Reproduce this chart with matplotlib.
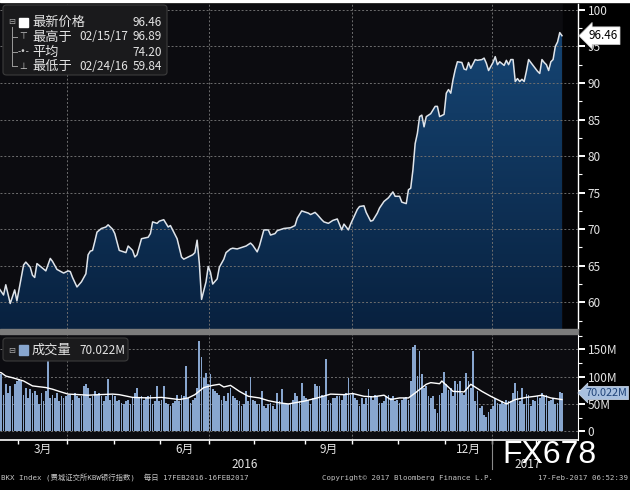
import numpy as np
import pandas as pd
import matplotlib
matplotlib.use("Agg")
import matplotlib.pyplot as plt
import matplotlib.transforms as mtrans
from matplotlib.colors import LinearSegmentedColormap
from matplotlib.patches import PathPatch, Rectangle, FancyBboxPatch
from matplotlib.ticker import MultipleLocator, FixedLocator
from matplotlib.lines import Line2D

plt.rcParams['font.family'] = ['Noto Sans CJK SC', 'DejaVu Sans']

# trading calendar (NYSE holidays in range)
holidays = ['2016-03-25', '2016-05-30', '2016-07-04', '2016-09-05',
            '2016-11-24', '2016-12-26', '2017-01-02', '2017-01-16']
dates = pd.bdate_range('2016-02-17', '2017-02-16', freq='C', holidays=holidays)

# BKX close, read at trading-day index positions
price_idx = [0, 2, 3, 5, 7, 8, 10, 11, 12, 14,
             15, 16, 17, 19, 21, 23, 24, 26, 29, 31,
             32, 33, 35, 37, 39, 40, 41, 42, 43, 44,
             46, 48, 49, 51, 52, 54, 57, 58, 60, 61,
             62, 64, 67, 68, 69, 71, 72, 74, 76, 77,
             78, 80, 82, 83, 85, 87, 88, 89, 90, 91,
             93, 94, 95, 96, 98, 99, 101, 102, 104, 105,
             107, 109, 111, 113, 114, 116, 117, 119, 121, 122,
             124, 125, 128, 131, 133, 134, 136, 137, 139, 140,
             142, 143, 145, 146, 148, 150, 152, 154, 155, 157,
             158, 161, 162, 164, 165, 167, 168, 170, 171, 173,
             175, 177, 178, 180, 181, 183, 184, 185, 186, 187,
             188, 189, 190, 191, 192, 194, 195, 196, 197, 198,
             200, 201, 202, 203, 204, 205, 206, 208, 209, 210,
             211, 212, 214, 215, 217, 218, 219, 220, 222, 223,
             224, 225, 227, 228, 229, 230, 231, 232, 233, 234,
             235, 236, 237, 238, 239, 241, 242, 243, 244, 245,
             246, 247, 248, 249, 250, 251, 252, 253]
price_val = [61.9, 61.0, 62.4, 59.84, 61.7, 60.2, 63.5, 65.1, 65.5, 64.8,
             63.7, 63.4, 65.3, 64.8, 64.3, 66.0, 65.6, 64.5, 64.0, 64.3,
             64.2, 63.4, 62.1, 62.8, 63.9, 66.5, 67.0, 67.1, 68.3, 69.6,
             70.1, 70.3, 70.6, 70.0, 69.4, 67.1, 66.8, 67.7, 67.1, 66.2,
             66.5, 68.7, 68.9, 69.4, 71.0, 70.8, 71.1, 71.3, 70.3, 70.5,
             69.9, 68.7, 66.2, 65.9, 66.2, 66.5, 66.8, 68.5, 65.3, 60.4,
             62.8, 64.9, 64.1, 62.5, 63.2, 64.8, 65.9, 66.8, 67.3, 67.4,
             67.3, 67.5, 67.7, 68.1, 67.8, 66.9, 67.7, 69.9, 69.9, 69.2,
             69.4, 69.8, 70.1, 70.2, 70.5, 71.5, 72.5, 72.4, 72.2, 72.0,
             72.3, 72.0, 71.3, 71.0, 70.8, 71.2, 71.4, 69.9, 70.7, 69.9,
             70.7, 72.7, 73.1, 73.2, 72.3, 71.1, 71.2, 72.2, 72.9, 73.8,
             74.3, 75.1, 74.5, 74.5, 73.7, 73.5, 75.4, 75.6, 78.1, 81.7,
             83.1, 85.4, 85.6, 84.0, 85.4, 85.8, 86.3, 86.8, 86.8, 85.4,
             85.7, 88.6, 89.1, 88.6, 90.4, 91.8, 92.9, 92.8, 91.9, 91.8,
             92.8, 92.0, 93.2, 93.1, 93.2, 93.4, 92.7, 91.7, 92.8, 93.6,
             92.5, 92.9, 92.4, 93.1, 92.5, 93.2, 93.2, 90.2, 90.6, 90.2,
             90.5, 90.2, 91.6, 93.2, 92.8, 92.0, 91.6, 91.3, 93.2, 92.8,
             92.5, 91.7, 92.9, 93.2, 95.0, 95.6, 96.89, 96.46]

# daily volume (millions), one per trading day
volume = [118, 105, 67, 86, 70, 83, 64, 86, 92, 95,
          92, 66, 80, 61, 77, 70, 73, 67, 49, 70,
          55, 73, 132, 61, 67, 61, 70, 55, 64, 61,
          64, 67, 67, 58, 70, 64, 61, 64, 83, 86,
          80, 61, 64, 73, 67, 70, 64, 55, 64, 95,
          58, 67, 64, 55, 58, 52, 49, 55, 58, 49,
          61, 70, 80, 61, 64, 58, 62,
          64, 67, 49, 55, 83, 55, 58, 83, 52, 49,
          46, 52, 55, 67, 55, 67, 64, 120, 61, 52,
          58, 60, 80, 165, 135, 98, 107, 86, 105, 77,
          73, 70, 67, 58, 64, 55, 70, 80, 64, 61,
          58, 55, 46, 49, 73, 55, 99, 58, 55, 49,
          49, 73, 46, 43, 49, 52, 46, 40, 70, 55,
          78, 52, 49, 49, 50,
          58, 70, 64, 55, 89, 64, 61, 58, 49, 61,
          86, 83, 83, 67, 64, 132, 58, 52, 61, 61,
          64, 64, 58, 67, 70, 97, 67, 70, 61, 58,
          46, 61, 49, 61, 78, 64, 58, 67, 64, 52,
          52, 55, 64, 67, 61, 64, 55, 58, 52, 58,
          61, 63, 58, 92, 155, 157, 101, 147, 104, 80,
          83, 64, 61, 64, 40, 33,
          67, 70, 109, 86, 75, 80, 64, 92, 86, 92,
          70, 67, 107, 92, 80, 147, 55, 73, 43, 46,
          30, 27, 35, 40, 46, 61, 52, 49, 55, 49,
          58, 55, 55, 70, 89, 73, 55, 80, 49, 68,
          67, 46, 58, 55, 64, 61, 70, 64, 67, 55,
          58, 61, 49, 52, 72, 70.022]

# volume moving average
ma_idx = [0, 1, 3, 6, 11, 15, 21, 24, 27, 31,
          36, 40, 45, 51, 54, 60, 67, 73, 81, 85,
          88, 92, 96, 99, 101, 104, 108, 112, 117, 121,
          126, 130, 137, 143, 149, 155, 159, 164, 168, 173,
          176, 180, 184, 187, 192, 194, 198, 199, 204, 209,
          212, 217, 221, 228, 232, 237, 241, 244, 248, 253]
ma_val = [108, 107, 101, 98, 92, 83, 80, 77, 73, 68,
          67, 66, 67, 68, 67, 62, 61, 62, 58, 61,
          67, 80, 84, 86, 81, 84, 73, 64, 61, 56,
          52, 50, 55, 61, 68, 67, 69, 64, 63, 66,
          58, 61, 61, 70, 86, 89, 87, 92, 73, 72,
          86, 73, 64, 50, 58, 62, 64, 66, 61, 58]

legend_rows = [("最新价格", "", "96.46"),
               ("最高于", "02/15/17", "96.89"),
               ("平均", "", "74.20"),
               ("最低于", "02/24/16", "59.84")]
month_labels = {3: "3月", 6: "6月", 9: "9月", 12: "12月"}

W, H = 630, 490
XMIN, XMAX = 0.4, 260.2
PMIN, PMAX = 56.35, 100.8
VMIN, VMAX = -16, 178
BAR = '#88a6cf'
GRID = '#6e6e6e'
TXT = '#e4e4e4'

fig = plt.figure(figsize=(W / 100, H / 100), dpi=100, facecolor='black')


def px_box(x0, y0, x1, y1):
    return [x0 / W, 1 - y1 / H, (x1 - x0) / W, (y1 - y0) / H]


def fx(x):
    return x / W


def fy(y):
    return 1 - y / H


ax = fig.add_axes(px_box(0, 4, 578, 329), facecolor='#0c0c10')
axv = fig.add_axes(px_box(0, 334, 578, 440), facecolor='#0c0c10')

n = len(volume)
idx = np.arange(n)
month_starts = [i for i in range(1, len(dates)) if dates[i].month != dates[i - 1].month]
quarter_starts = [i for i in month_starts if dates[i].month in (1, 4, 7, 10)]

# ---- price panel
poly = ax.fill_between(price_idx, price_val, PMIN, facecolor='none', edgecolor='none')
clip = PathPatch(poly.get_paths()[0], transform=ax.transData, facecolor='none', edgecolor='none')
ax.add_patch(clip)
cmap = LinearSegmentedColormap.from_list('navy', ['#08213f', '#174878'])
grad = np.linspace(0, 1, 256).reshape(-1, 1)
im = ax.imshow(grad, cmap=cmap, aspect='auto', origin='lower',
               extent=[XMIN, price_idx[-1], PMIN, PMAX], zorder=1)
im.set_clip_path(clip)
ax.axvspan(price_idx[-1] + 0.5, XMAX, color='#040406', zorder=0.8)
ax.plot(price_idx, price_val, color='#dfe4ea', lw=1.1, zorder=4)

for v in range(60, 101, 5):
    ax.axhline(v, color=GRID, ls=(0, (2, 2)), lw=0.7, zorder=3)
for q in quarter_starts:
    ax.axvline(q - 0.5, color=GRID, ls=(0, (2, 2)), lw=0.7, zorder=3)

ax.set_xlim(XMIN, XMAX)
ax.set_ylim(PMIN, PMAX)
ax.yaxis.tick_right()
ax.set_yticks(range(60, 101, 5))
ax.yaxis.set_minor_locator(MultipleLocator(2.5))
ax.tick_params(axis='y', which='major', direction='out', length=5, width=1.4,
               colors='white', labelcolor=TXT, labelsize=8.5, pad=2)
ax.tick_params(axis='y', which='minor', direction='out', length=3, width=0.8, colors='white')
ax.tick_params(axis='x', bottom=False, labelbottom=False)
for s in ['top', 'left', 'bottom']:
    ax.spines[s].set_visible(False)
ax.spines['right'].set_color('white')
ax.spines['right'].set_linewidth(1.0)

tag_tr = mtrans.blended_transform_factory(ax.transAxes, ax.transData)
ax.text(1.018, price_val[-1], "%.2f" % price_val[-1], transform=tag_tr, fontsize=8.5,
        color='black', va='center', ha='left', zorder=10, clip_on=False,
        bbox=dict(boxstyle='larrow,pad=0.2', fc='white', ec='#cccccc', lw=0.5))

# ---- volume panel
axv.bar(idx, volume, width=0.78, color=BAR, zorder=2)
axv.plot(ma_idx, ma_val, color='white', lw=1.0, zorder=3)
for v in [0, 50, 100, 150]:
    axv.axhline(v, color=GRID, ls=(0, (2, 2)), lw=0.7, zorder=1)
for q in quarter_starts:
    axv.axvline(q - 0.5, color=GRID, ls=(0, (2, 2)), lw=0.7, zorder=1)
axv.set_xlim(XMIN, XMAX)
axv.set_ylim(VMIN, VMAX)
axv.yaxis.tick_right()
axv.set_yticks([0, 50, 100, 150])
axv.set_yticklabels(['0', '50M', '100M', '150M'])
axv.yaxis.set_minor_locator(MultipleLocator(25))
axv.tick_params(axis='y', which='major', direction='out', length=5, width=1.4,
                colors='white', labelcolor=TXT, labelsize=8.5, pad=2)
axv.tick_params(axis='y', which='minor', direction='out', length=3, width=0.8, colors='white')
axv.xaxis.set_major_locator(FixedLocator([m - 0.5 for m in month_starts]))
axv.tick_params(axis='x', direction='out', length=3, width=1, colors='white', labelbottom=False)
for s in ['top', 'left']:
    axv.spines[s].set_visible(False)
axv.spines['right'].set_color('white')
axv.spines['bottom'].set_color('white')
axv.spines['bottom'].set_linewidth(1.2)

vtag_tr = mtrans.blended_transform_factory(axv.transAxes, axv.transData)
axv.text(1.012, volume[-1], "%.3fM" % volume[-1], transform=vtag_tr, fontsize=7.8,
         color='#1f4378', va='center', ha='left', zorder=10, clip_on=False,
         bbox=dict(boxstyle='larrow,pad=0.15', fc='#a9c1e0', ec='#d0dcec', lw=0.5))

# ---- separators
fig.add_artist(Rectangle((0, fy(334)), 578 / W, 5 / H, transform=fig.transFigure,
                         color='#7c7c7c', zorder=5))
fig.add_artist(Rectangle((0, fy(2)), 1, 2 / H, transform=fig.transFigure,
                         color='white', zorder=5))

# ---- legends
fig.add_artist(FancyBboxPatch((fx(3), fy(75)), 164 / W, 70 / H,
                              boxstyle='round,pad=0,rounding_size=0.006',
                              transform=fig.transFigure, fc='#1a1a1c', ec='#3c3c3c',
                              lw=0.8, zorder=6))
row_y = [22, 37, 52, 66]
fig.add_artist(Line2D([fx(12), fx(12)], [fy(27), fy(66)], transform=fig.transFigure,
                      color='#9a9a9a', lw=0.7, zorder=7))
for yy in row_y[1:]:
    fig.add_artist(Line2D([fx(12), fx(17)], [fy(yy), fy(yy)], transform=fig.transFigure,
                          color='#9a9a9a', lw=0.7, zorder=7))
fig.text(fx(12), fy(row_y[0]), "⊟", fontsize=6, color='#aaaaaa', ha='center', va='center',
         family='DejaVu Sans', zorder=8)
fig.add_artist(Rectangle((fx(19), fy(27)), 9 / W, 9 / H, transform=fig.transFigure,
                         color='white', zorder=8))
for sym, yy in zip(["⊤", "-•-", "⊥"], row_y[1:]):
    fig.text(fx(23), fy(yy), sym, fontsize=6.5, color='#cfcfcf', ha='center', va='center',
             family='DejaVu Sans', zorder=8)
for (lab, dt, val), yy in zip(legend_rows, row_y):
    fig.text(fx(32), fy(yy), lab, fontsize=9.5, color=TXT, va='center', zorder=8)
    if dt:
        fig.text(fx(79), fy(yy), dt, fontsize=8.5, color=TXT, va='center', zorder=8)
    fig.text(fx(162), fy(yy), val, fontsize=8.5, color=TXT, va='center', ha='right', zorder=8)

fig.add_artist(FancyBboxPatch((fx(3), fy(361)), 125 / W, 23 / H,
                              boxstyle='round,pad=0,rounding_size=0.006',
                              transform=fig.transFigure, fc='#1a1a1c', ec='#3c3c3c',
                              lw=0.8, zorder=6))
fig.text(fx(12), fy(350), "⊟", fontsize=6, color='#aaaaaa', ha='center', va='center',
         family='DejaVu Sans', zorder=8)
fig.add_artist(Rectangle((fx(19), fy(355)), 9 / W, 10 / H, transform=fig.transFigure,
                         color=BAR, zorder=8))
fig.text(fx(32), fy(350), "成交量", fontsize=9.5, color=TXT, va='center', zorder=8)
fig.text(fx(79), fy(350), "%.3fM" % volume[-1], fontsize=8.5, color=TXT, va='center', zorder=8)

# ---- time axis labels
lab_tr = mtrans.blended_transform_factory(axv.transData, fig.transFigure)
for m, lab in month_labels.items():
    pos = [i for i in range(len(dates)) if dates[i].month == m]
    axv.text((pos[0] + pos[-1]) / 2, fy(449), lab, transform=lab_tr, fontsize=8.5,
             color=TXT, ha='center', va='center', clip_on=False)
for yr in [2016, 2017]:
    pos = [i for i in range(len(dates)) if dates[i].year == yr]
    axv.text((pos[0] + pos[-1]) / 2, fy(464), str(yr), transform=lab_tr, fontsize=8.5,
             color=TXT, ha='center', va='center', clip_on=False)
jan = [q for q in quarter_starts if dates[q].month == 1][0]
axv.add_line(Line2D([jan - 0.5, jan - 0.5], [fy(441), fy(469)], transform=lab_tr,
                    color='#8a8a8a', lw=0.8, clip_on=False))

fig.text(fx(502), fy(455), "FX678", fontsize=23, color='white', va='center', ha='left',
         family='Liberation Sans', zorder=9)

mono = ['DejaVu Sans Mono', 'Noto Sans CJK SC']
fig.text(fx(1), fy(478), "BKX Index (费城证交所KBW银行指数)  每日 17FEB2016-16FEB2017",
         fontsize=5.3, color='#c4c4c4', va='center', family=mono)
fig.text(fx(322), fy(478), "Copyright© 2017 Bloomberg Finance L.P.",
         fontsize=5.3, color='#c4c4c4', va='center', family=mono)
fig.text(fx(628), fy(478), "17-Feb-2017 06:52:39",
         fontsize=5.3, color='#c4c4c4', va='center', ha='right', family=mono)

fig.savefig("out.png", dpi=100, facecolor='black')
